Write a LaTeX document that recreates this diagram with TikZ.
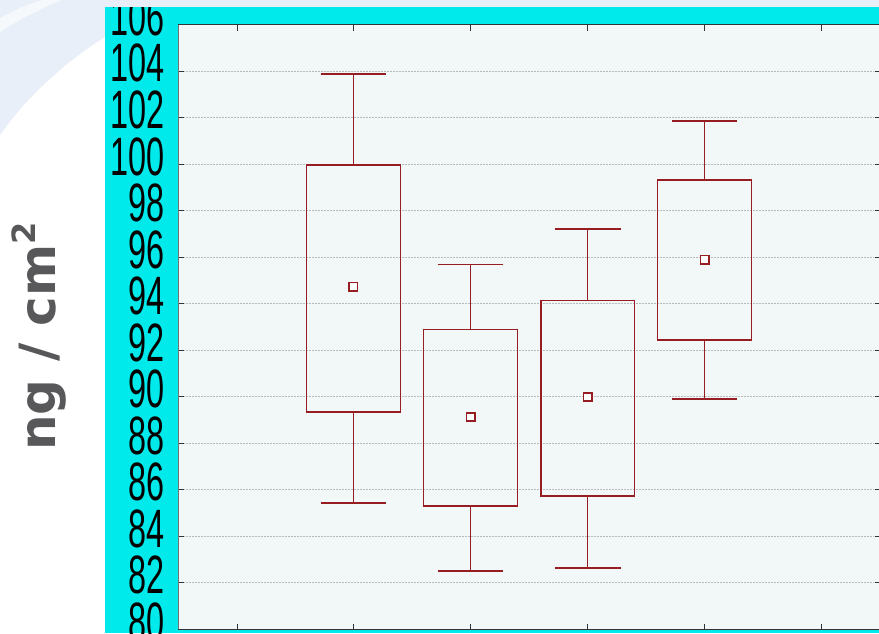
\documentclass[tikz,border=0pt]{standalone}
\usepackage{fontspec}
\newfontfamily\narrowfont[FakeStretch=0.6]{Liberation Sans}
\newfontfamily\unitfont{DejaVu Sans}
\definecolor{cyanpanel}{RGB}{0,233,235}
\definecolor{plotbg}{RGB}{242,247,247}
\definecolor{boxred}{RGB}{150,30,35}
\definecolor{swoosh}{RGB}{232,239,248}
\definecolor{unitgray}{RGB}{88,88,90}
\definecolor{gridgray}{RGB}{185,185,185}
\tikzset{
  gridline/.style={gridgray, line width=0.7pt, dash pattern=on 2pt off 1pt},
  ticktick/.style={black!80, line width=0.8pt},
  boxline/.style={boxred, line width=1.2pt},
  whiskline/.style={boxred, line width=1pt},
  capline/.style={boxred, line width=1.4pt},
  meanmark/.style={boxred, line width=1.6pt, fill=white},
  ylab/.style={anchor=base east, inner sep=0pt, font=\narrowfont\fontsize{54}{54}\selectfont},
}
\newcommand\bpbox[6]{% cx, ytop, ybot, ywhi, ywlo, ymean
  \draw[whiskline] (#1,#2) -- (#1,#4);
  \draw[whiskline] (#1,#3) -- (#1,#5);
  \draw[capline] (#1-32.8,#4) -- (#1+32.8,#4);
  \draw[capline] (#1-32.8,#5) -- (#1+32.8,#5);
  \draw[boxline] (#1-46.8,#2) rectangle (#1+46.8,#3);
  \draw[meanmark] (#1-4.2,#6-4.2) rectangle (#1+4.2,#6+4.2);
}
\begin{document}
\begin{tikzpicture}[x=1pt,y=-1pt]
\useasboundingbox (0,0) rectangle (879,633);
% background and swoosh
\fill[white] (0,0) rectangle (879,633);
\fill[swoosh] (0,0) -- (879,0) -- (879,12) -- (150,12)
   .. controls (90,40) and (35,85) .. (0,135) -- cycle;
\fill[white!60!swoosh] (0,18) .. controls (12,11) and (28,4) .. (42,0)
   -- (62,0) .. controls (42,8) and (18,20) .. (0,32) -- cycle;
% cyan panel
\fill[cyanpanel] (105,7) rectangle (879,633);
% plot area
\fill[plotbg] (178,24.5) rectangle (880,629.5);
% grid lines
\foreach \v in {82,84,...,104} {
  \draw[gridline] (183,{629.2-(\v-80)*23.26}) -- (874,{629.2-(\v-80)*23.26});
  \draw[ticktick] (178,{629.2-(\v-80)*23.26}) -- (183.5,{629.2-(\v-80)*23.26});
  \draw[ticktick] (874.5,{629.2-(\v-80)*23.26}) -- (880,{629.2-(\v-80)*23.26});
}
% x ticks
\foreach \x in {237,353.3,470.5,587.7,704.5,821.5} {
  \draw[ticktick] (\x,24.5) -- (\x,30.5);
  \draw[ticktick] (\x,629.5) -- (\x,623.5);
}
% frame
\draw[black!55, line width=0.9pt] (178,24.5) -- (178,629.5);
\draw[black!80, line width=1.2pt] (178,24.5) -- (880,24.5);
\draw[black!80, line width=1.4pt] (178,629.5) -- (880,629.5);
% y labels
\begin{scope}
\clip (105,7) rectangle (178,633);
\foreach \v in {80,82,...,106} {
  \node[ylab] at (164.5,{629.2-(\v-80)*23.26+11}) {\v};
}
\end{scope}
% boxes
\bpbox{353.3}{165}{412}{74}{503}{286.7}
\bpbox{470.5}{329.3}{506}{264.7}{571}{417}
\bpbox{587.7}{300.7}{496}{229}{568}{397}
\bpbox{704.5}{180}{340}{121}{399}{259.5}
% unit label
\node[rotate=90, anchor=base, inner sep=0pt, text=unitgray,
  font=\unitfont\bfseries\fontsize{50}{50}\selectfont] (unit) at (55,336.5)
  {ng / cm\raisebox{20pt}{\fontsize{32}{32}\selectfont 2}};
\end{tikzpicture}
\end{document}
